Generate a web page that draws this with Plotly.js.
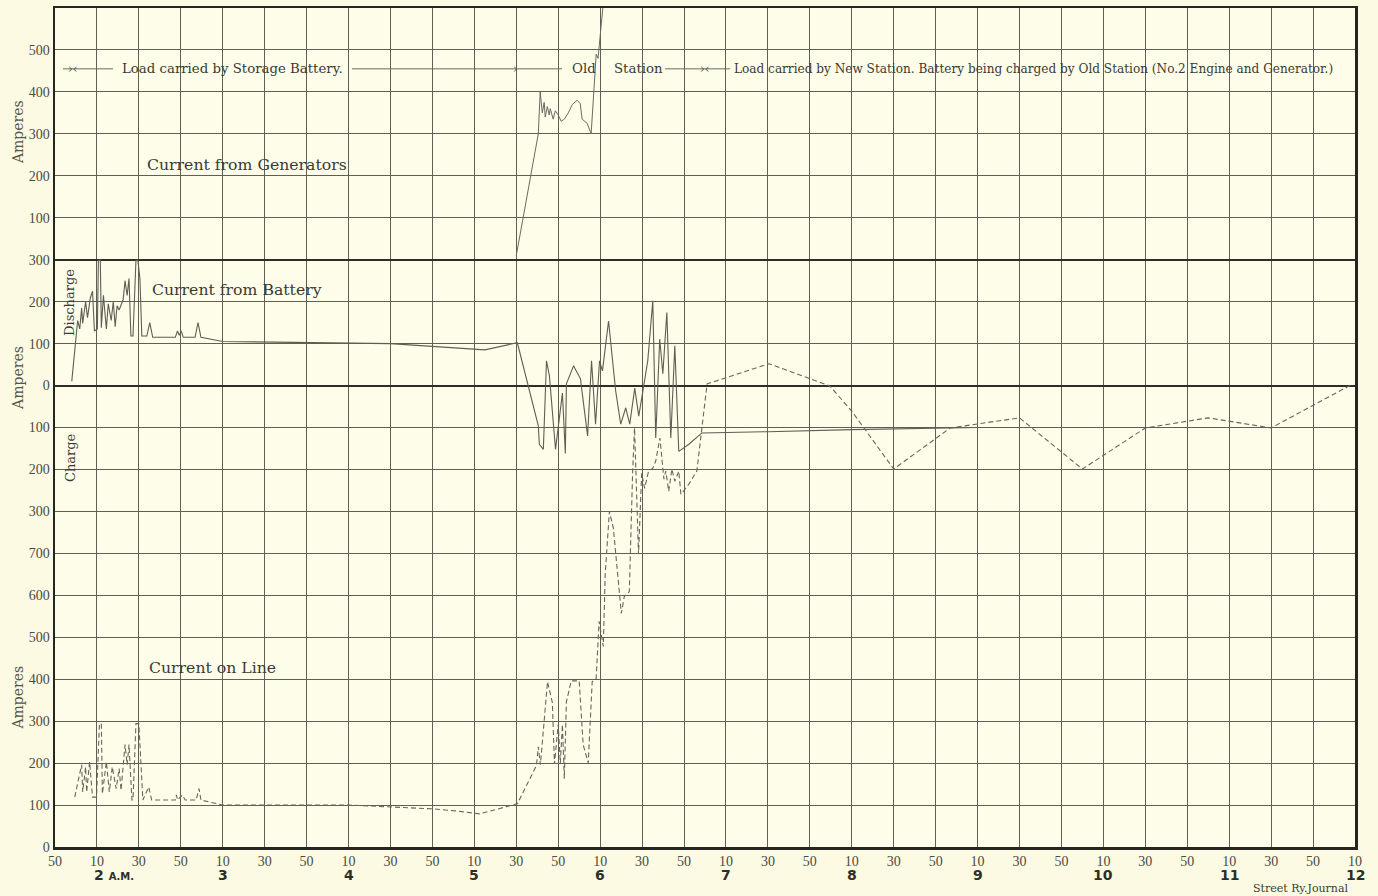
<!DOCTYPE html>
<html>
<head>
<meta charset="utf-8">
<script src="https://cdn.plot.ly/plotly-3.0.1.min.js"></script>
<style>
  html, body { margin: 0; padding: 0; background: #FCFAE2; }
  #chart { width: 1378px; height: 896px; }
</style>
</head>
<body>
<div id="chart"></div>
<script>
// Time axis: minutes after midnight (1:50 A.M. = 110 ... 12:10 = 730)
const xTickVals = [110,130,150,170,190,210,230,250,270,290,310,330,350,370,390,410,430,450,470,490,510,530,550,570,590,610,630,650,670,690,710,730];
const xTickText = ["50","10","30","50","10","30","50","10","30","50","10","30","50","10","30","50","10","30","50","10","30","50","10","30","50","10","30","50","10","30","50","10"];
const hourTimes = [130,190,250,310,370,430,490,550,610,670,730];
const hourLabels = ["2","3","4","5","6","7","8","9","10","11","12"];

// Stacked scale labels (bottom: Current on Line, middle: Battery, top: Generators)
const yTickVals = [0,100,200,300,400,500,600,700,800,900,1000,1100,1200,1300,1400,1500,1600,1700,1800,1900,2000];
const yTickText = ["0","100","200","300","400","500","600","700","300","200","100","0","100","200","300","100","200","300","400","500",""];

// Current from Generators (amperes)
const genTime = [330,340.5,341.4,342.4,343.3,343.8,344.8,345.7,346.2,347.6,348.6,350,351.4,352.9,354.8,356.7,359,360.5,361.4,362.4,363.8,365.7,368.1,369,370.5,372.4];
const genAmps = [10,300,400,350,375,340,365,345,360,335,355,345,330,335,350,370,380,372,335,330,325,300,490,480,570,660];

// Current from Battery (amperes, + discharge / - charge)
const batTime = [118,120.4,120.8,121.8,122.7,123.2,124.6,125.5,126.9,127.9,128.8,130.2,130.7,131.6,132.1,133.1,134.5,135.4,136.8,137.8,138.7,139.6,140.6,142.5,143.4,144.4,145.3,146.2,147.2,148.6,149.5,150.5,151.4,153.8,155.2,156.6,167.4,168.4,169.3,170.2,171.2,176.8,178.2,179.6,190,270,315,330.5,340.5,341,342.9,344.4,345.8,348.7,350.1,352,353.4,353.9,357.3,360.6,364,365.9,367.8,369.7,371.1,374,377.4,379.8,382.2,384.1,386.5,388.4,390.8,392.7,395.1,396.5,398.4,399.9,401.8,403.7,405.6,407.5,412.3,418.5,450,490,550,730];
const batAmps = [10,130,155,135,185,148,200,162,210,225,130,135,298,300,138,215,135,195,155,200,140,190,180,205,250,215,255,118,118,298,300,255,118,118,150,115,115,130,120,130,115,115,150,115,105,100,85,102,-96,-140,-152,59,23,-152,-92,-18,-162,4,47,16,-120,59,-92,59,35,154,-13,-92,-53,-92,-6,-73,0,59,202,-125,111,28,174,-125,95,-157,-140,-113,-110,-105,-100,-100];

// Current on Line (amperes)
const lineTime = [119.4,122.7,123.2,124.6,125.1,126.5,127.9,129.8,131.2,132.1,132.6,134.5,135.9,137.3,139.2,140.6,141.5,143.4,144.4,145.3,146.7,147.2,148.6,150,151.9,154.7,156.1,167.4,167.9,168.5,170.7,172.1,177.3,178.7,179.6,190,250,290,301.4,312.4,330.5,339.6,340.5,341.5,344.9,347.2,348.2,350,351,352,352.9,353.9,356.2,360,361.9,364.3,366.2,368.1,369.5,371.5,372.4,374.4,376.3,380.1,381.5,383.9,385.5,386.4,388.3,389.8,391.2,393.1,395.1,396.5,398.5,400.4,401.3,402.7,404.2,405.6,407.5,408.5,412.3,416.1,421,450.5,479.5,490,510,537,570,600,630,660,690,729];
const lineAmps = [119,196,131,191,131,203,119,119,294,294,127,203,131,191,139,187,135,244,196,244,112,112,294,294,112,143,112,112,124,112,124,112,112,139,112,100,100,91,86,79,103,194,239,196,394,344,198,292,200,292,163,346,396,396,244,200,394,402,538,478,650,800,760,557,597,609,896,999,698,891,855,896,903,920,975,877,896,848,901,872,896,841,865,896,1104,1152,1099,1039,901,999,1023,901,999,1023,999,1104];

const inkText = '#3a3a32';
const serif = '"DejaVu Serif", "Liberation Serif", serif';
const tickSerif = '"Liberation Serif", "DejaVu Serif", serif';

const traces = [
  { x: genTime, y: genAmps, yaxis: 'y3', type: 'scatter', mode: 'lines',
    line: { color: '#6a6a60', width: 1 }, hoverinfo: 'skip' },
  { x: batTime, y: batAmps, yaxis: 'y2', type: 'scatter', mode: 'lines',
    line: { color: '#5e5e55', width: 1.1 }, hoverinfo: 'skip' },
  { x: lineTime, y: lineAmps, yaxis: 'y', type: 'scatter', mode: 'lines',
    line: { color: '#66665c', width: 1.1, dash: '5px,3px' }, hoverinfo: 'skip' }
];

const legendY = 455;  // on the generator scale
const annotations = [];
function addText(text, x, y, yref, opts) {
  annotations.push(Object.assign({ text: text, x: x, y: y, xref: 'x', yref: yref,
    showarrow: false, xanchor: 'left', yanchor: 'middle',
    font: { family: serif, size: 13.3, color: inkText } }, opts || {}));
}
addText('Load carried by Storage Battery.', 141, legendY, 'y3');
addText('Old', 355.6, legendY, 'y3');
addText('Station', 375.6, legendY, 'y3');
addText('Load carried by New Station. Battery being charged by Old Station (No.2 Engine and Generator.)', 433, legendY, 'y3', { font: { family: serif, size: 12.1, color: inkText } });
addText('›‹', 118.6, legendY, 'y3', { xanchor: 'center', font: { family: serif, size: 12, color: '#555' } });
addText('›', 329.4, legendY, 'y3', { xanchor: 'center', font: { family: serif, size: 12, color: '#555' } });
addText('›‹', 420, legendY, 'y3', { xanchor: 'center', font: { family: serif, size: 12, color: '#555' } });

addText('Current from Generators', 152.9, 226, 'y3', { font: { family: serif, size: 15.7, color: inkText } });
addText('Current from Battery', 155.3, 230, 'y2', { font: { family: serif, size: 15.7, color: inkText } });
addText('Current on Line', 153.9, 427, 'y', { font: { family: serif, size: 15.7, color: inkText } });

// Rotated axis words
function addPaperText(text, x, y, opts) {
  annotations.push(Object.assign({ text: text, x: x, y: y, xref: 'paper', yref: 'paper',
    showarrow: false, xanchor: 'center', yanchor: 'middle', textangle: -90,
    font: { family: serif, size: 14, color: '#55554c' } }, opts || {}));
}
addPaperText('Amperes', -0.0285, 0.852);
addPaperText('Amperes', -0.0285, 0.559);
addPaperText('Amperes', -0.0285, 0.178);
addPaperText('Discharge', 0.0115, 0.6496, { font: { family: serif, size: 13, color: inkText } });
addPaperText('Charge', 0.0115, 0.4648, { font: { family: serif, size: 13, color: inkText } });

// Hour row
hourTimes.forEach(function (t, i) {
  const first = i === 0;
  annotations.push({
    text: first ? '<b>' + hourLabels[i] + ' <span style="font-size:10px">A.M.</span></b>' : '<b>' + hourLabels[i] + '</b>',
    x: t, y: 0, xref: 'x', yref: 'paper', showarrow: false,
    xanchor: first ? 'left' : 'center', yanchor: 'top', xshift: first ? -5 : 0, yshift: -18,
    font: { family: '"DejaVu Sans", "Liberation Sans", sans-serif', size: 14, color: '#2e2e28' }
  });
});
annotations.push({
  text: 'Street Ry.Journal', x: 0.997, y: 0, xref: 'paper', yref: 'paper',
  showarrow: false, xanchor: 'right', yanchor: 'top', yshift: -33,
  font: { family: serif, size: 11, color: inkText }
});

const shapes = [];
function legendLine(x0, x1) {
  shapes.push({ type: 'line', xref: 'x', yref: 'y3', x0: x0, x1: x1, y0: legendY, y1: legendY,
    line: { color: '#6a6a60', width: 1 } });
}
legendLine(113.8, 137.7);
legendLine(251.6, 351.8);
legendLine(401, 432);

const gridColor = '#5f5f53';
const layout = {
  width: 1378, height: 896,
  margin: { l: 55, r: 23, t: 8, b: 49, pad: 0 },
  paper_bgcolor: '#FCFAE2',
  plot_bgcolor: '#FDFDE9',
  showlegend: false,
  xaxis: {
    range: [110, 730], tickmode: 'array', tickvals: xTickVals, ticktext: xTickText,
    showgrid: true, gridcolor: gridColor, gridwidth: 1,
    zeroline: false, showline: true, mirror: true, linecolor: '#26261f', linewidth: 2.5,
    ticks: '', tickfont: { family: tickSerif, size: 14, color: '#4a4a42' }, fixedrange: true
  },
  yaxis: {
    range: [0, 2000], tickmode: 'array', tickvals: yTickVals, ticktext: yTickText,
    showgrid: true, gridcolor: gridColor, gridwidth: 1,
    zeroline: false, showline: true, mirror: true, linecolor: '#26261f', linewidth: 2.5,
    ticks: '', tickfont: { family: tickSerif, size: 14, color: '#4a4a42' }, fixedrange: true
  },
  yaxis2: {
    overlaying: 'y', anchor: 'x', side: 'left', range: [-1100, 900],
    showgrid: false, showticklabels: false, showline: false, ticks: '',
    zeroline: true, zerolinecolor: '#2e2e27', zerolinewidth: 2, fixedrange: true
  },
  yaxis3: {
    overlaying: 'y', anchor: 'x', side: 'left', range: [-1400, 600],
    showgrid: false, showticklabels: false, showline: false, ticks: '',
    zeroline: true, zerolinecolor: '#2e2e27', zerolinewidth: 2, fixedrange: true
  },
  annotations: annotations,
  shapes: shapes
};

Plotly.newPlot('chart', traces, layout, { staticPlot: true, displayModeBar: false });
</script>
</body>
</html>
